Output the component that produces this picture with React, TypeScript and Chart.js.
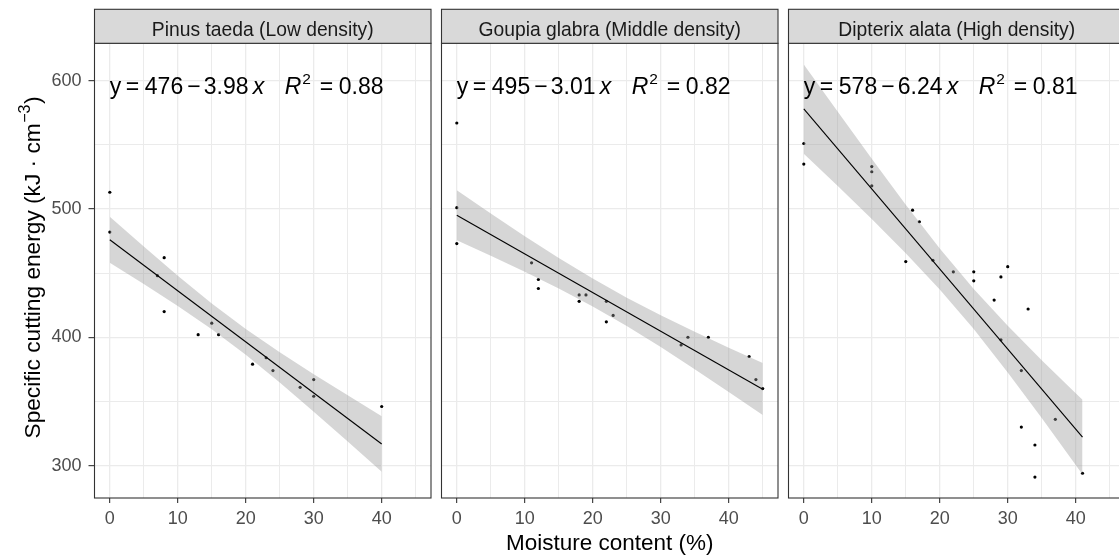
import React, { useEffect, useRef } from "react";
import { Chart, registerables } from "chart.js";

Chart.register(...registerables);

const FONT = '"Liberation Sans", Arial, Helvetica, sans-serif';

// ---------- data ----------
const panelTitles = [
  "Pinus taeda (Low density)",
  "Goupia glabra (Middle density)",
  "Dipterix alata (High density)",
];
const eqIntercept = ["476", "495", "578"];
const eqSlope = ["3.98", "3.01", "6.24"];
const eqR2 = ["0.88", "0.82", "0.81"];

const pinusX = [0, 0, 7, 8, 8, 13, 15, 16, 21, 23, 24, 28, 30, 30, 40];
const pinusY = [513, 482, 448, 462, 420, 402, 411, 402, 379, 384, 374, 361, 367, 354, 346];

const goupiaX = [0, 0, 0, 11, 12, 12, 18, 19, 18, 22, 22, 23, 33, 34, 37, 43, 44, 45];
const goupiaY = [567, 501, 473, 458, 445, 438, 433, 433, 428, 428, 412, 417, 394, 400, 400, 385, 367, 360];

const dipterixX = [0, 0, 10, 10, 10, 15, 16, 17, 19, 22, 25, 25, 28, 29, 29, 30, 32, 32, 33, 34, 34, 37, 41];
const dipterixY = [551, 535, 533, 529, 518, 459, 499, 490, 460, 451, 451, 444, 429, 447, 398, 455, 374, 330, 422, 316, 291, 336, 294];

const pinusFitX = [0, 40];
const pinusFitY = [476, 316.8];
const goupiaFitX = [0, 45];
const goupiaFitY = [495, 359.5];
const dipterixFitX = [0, 41];
const dipterixFitY = [578, 322.2];

const pinusBandX = [0, 5, 10, 15, 20, 25, 30, 35, 40];
const pinusUpper = [494.0, 470.7, 448.0, 426.3, 406.4, 388.3, 371.2, 354.7, 338.5];
const pinusLower = [458.0, 441.5, 424.4, 406.3, 386.4, 364.7, 342.0, 318.7, 295.1];

const goupiaBandX = [0, 5, 10, 15, 20, 25, 30, 35, 40, 45];
const goupiaUpper = [514.5, 496.5, 478.8, 461.8, 445.7, 430.8, 417.1, 404.3, 391.9, 379.9];
const goupiaLower = [475.5, 463.5, 451.0, 437.9, 423.9, 408.8, 392.3, 375.1, 357.3, 339.3];

const dipterixBandX = [0, 5, 10, 15, 20, 25, 30, 35, 40, 41];
const dipterixUpper = [612.5, 575.8, 539.1, 503.3, 469.1, 437.6, 409.0, 382.1, 356.3, 351.3];
const dipterixLower = [543.0, 517.8, 492.1, 465.5, 437.3, 406.4, 372.6, 337.1, 300.5, 293.1];

const xMajorTicks = [0, 10, 20, 30, 40];
const yMajorTicks = [300, 400, 500, 600];
const xRange = [-2.25, 47.25];
const yRange = [274.7, 629.1];

// ---------- layout ----------
const CANVAS_H = 555;
const STRIP_TOP = 9.3;
const PANEL_TOP = 43.3;
const X_AXIS_H = 57;

type Spec = {
  idx: number;
  left: number;
  width: number;
  padLeft: number;
  yAxisW: number;
  showY: boolean;
  showXTitle: boolean;
  xs: number[];
  ys: number[];
  fitX: number[];
  fitY: number[];
  bandX: number[];
  upper: number[];
  lower: number[];
};

const specs: Spec[] = [
  { idx: 0, left: 0, width: 436, padLeft: 0, yAxisW: 94.5, showY: true, showXTitle: false,
    xs: pinusX, ys: pinusY, fitX: pinusFitX, fitY: pinusFitY, bandX: pinusBandX, upper: pinusUpper, lower: pinusLower },
  { idx: 1, left: 436, width: 347, padLeft: 5.5, yAxisW: 0, showY: false, showXTitle: true,
    xs: goupiaX, ys: goupiaY, fitX: goupiaFitX, fitY: goupiaFitY, bandX: goupiaBandX, upper: goupiaUpper, lower: goupiaLower },
  { idx: 2, left: 783, width: 347, padLeft: 5.5, yAxisW: 0, showY: false, showXTitle: false,
    xs: dipterixX, ys: dipterixY, fitX: dipterixFitX, fitY: dipterixFitY, bandX: dipterixBandX, upper: dipterixUpper, lower: dipterixLower },
];

const near = (list: number[], v: number) => list.some((t) => Math.abs(t - v) < 1e-6);
const pts = (xs: number[], ys: number[]) => xs.map((x, i) => ({ x, y: ys[i] }));

function drawEquation(ctx: CanvasRenderingContext2D, x0: number, base: number, a: string, b: string, r2: string) {
  const f = `23px ${FONT}`;
  const fi = `italic 23px ${FONT}`;
  const fs = `15.5px ${FONT}`;
  const parts: [number, string, string, number][] = [
    [1, "y", f, 0],
    [17, "=", f, 0],
    [36, a, f, 0],
    [78.5, "\u2212", f, 0],
    [95, b, f, 0],
    [144, "x", fi, 0],
    [176, "R", fi, 0],
    [193.5, "2", fs, -10],
    [211, "=", f, 0],
    [230, r2, f, 0],
  ];
  ctx.save();
  ctx.fillStyle = "#000000";
  ctx.textAlign = "left";
  ctx.textBaseline = "alphabetic";
  for (const [dx, t, font, dy] of parts) {
    ctx.font = font;
    ctx.fillText(t, x0 + dx, base + dy);
  }
  ctx.restore();
}

function drawYTitle(ctx: CanvasRenderingContext2D, cx: number, cy: number) {
  const f = `22.7px ${FONT}`;
  const fs = `16px ${FONT}`;
  const p1 = "Specific cutting energy (kJ \u00B7 cm";
  const p2 = "\u22123";
  const p3 = ")";
  ctx.save();
  ctx.translate(cx, cy);
  ctx.rotate(-Math.PI / 2);
  ctx.fillStyle = "#000000";
  ctx.textAlign = "left";
  ctx.textBaseline = "alphabetic";
  ctx.font = f;
  const w1 = ctx.measureText(p1).width;
  const w3 = ctx.measureText(p3).width;
  ctx.font = fs;
  const w2 = ctx.measureText(p2).width;
  const total = w1 + w2 + w3 + 1;
  let x = -total / 2;
  ctx.font = f;
  ctx.fillText(p1, x, 0);
  x += w1 + 0.5;
  ctx.font = fs;
  ctx.fillText(p2, x, -10.5);
  x += w2 + 0.5;
  ctx.font = f;
  ctx.fillText(p3, x, 0);
  ctx.restore();
}

function Panel({ spec }: { spec: Spec }) {
  const ref = useRef<HTMLCanvasElement | null>(null);

  useEffect(() => {
    const canvas = ref.current;
    if (!canvas) return;

    const facetPlugin = {
      id: "facet" + spec.idx,
      afterDraw(chart: any) {
        const { ctx, chartArea: a } = chart;
        ctx.save();
        ctx.strokeStyle = "#333333";
        ctx.lineWidth = 1.1;
        ctx.strokeRect(a.left, a.top, a.right - a.left, a.bottom - a.top);
        ctx.fillStyle = "#d9d9d9";
        ctx.fillRect(a.left, STRIP_TOP, a.right - a.left, a.top - STRIP_TOP);
        ctx.strokeRect(a.left, STRIP_TOP, a.right - a.left, a.top - STRIP_TOP);
        ctx.fillStyle = "#1a1a1a";
        ctx.font = `19.3px ${FONT}`;
        ctx.textAlign = "center";
        ctx.textBaseline = "alphabetic";
        ctx.fillText(panelTitles[spec.idx], (a.left + a.right) / 2, 36);
        ctx.restore();

        const x0 = chart.scales.x.getPixelForValue(0) - 1;
        drawEquation(ctx, x0, 94, eqIntercept[spec.idx], eqSlope[spec.idx], eqR2[spec.idx]);

        if (spec.showY) drawYTitle(ctx, 40, 267.5);
        if (spec.showXTitle) {
          ctx.save();
          ctx.fillStyle = "#000000";
          ctx.font = `22.5px ${FONT}`;
          ctx.textAlign = "center";
          ctx.textBaseline = "alphabetic";
          ctx.fillText("Moisture content (%)", 609.75 - spec.left, 550);
          ctx.restore();
        }
      },
    };

    const chart = new Chart(canvas, {
      type: "line",
      data: {
        datasets: [
          {
            data: pts(spec.fitX, spec.fitY),
            borderColor: "#000000",
            borderWidth: 1.1,
            pointRadius: 0,
            fill: false,
            tension: 0,
          },
          {
            data: pts(spec.bandX, spec.upper),
            borderColor: "rgba(0,0,0,0)",
            borderWidth: 0,
            pointRadius: 0,
            backgroundColor: "rgba(153,153,153,0.4)",
            fill: "+1",
            tension: 0,
          },
          {
            data: pts(spec.bandX, spec.lower),
            borderColor: "rgba(0,0,0,0)",
            borderWidth: 0,
            pointRadius: 0,
            fill: false,
            tension: 0,
          },
          {
            data: pts(spec.xs, spec.ys),
            showLine: false,
            pointRadius: 1.6,
            pointBackgroundColor: "#000000",
            pointBorderColor: "#000000",
            pointBorderWidth: 0,
            fill: false,
          },
        ] as any,
      },
      options: {
        animation: false,
        responsive: false,
        devicePixelRatio: 1,
        events: [],
        layout: { padding: { left: spec.padLeft, right: 5, top: PANEL_TOP, bottom: 0 } },
        plugins: {
          legend: { display: false },
          tooltip: { enabled: false },
          title: { display: false },
        },
        scales: {
          x: {
            type: "linear",
            min: xRange[0],
            max: xRange[1],
            afterFit: (s: any) => {
              s.height = X_AXIS_H;
            },
            border: { display: false },
            grid: {
              color: "#ebebeb",
              lineWidth: (c: any) => (c.tick && near(xMajorTicks, c.tick.value) ? 1.3 : 1),
              tickColor: (c: any) => (c.tick && near(xMajorTicks, c.tick.value) ? "#333333" : "rgba(0,0,0,0)"),
              tickLength: 5,
              tickWidth: 1.1,
              drawTicks: true,
            },
            ticks: {
              stepSize: 5,
              includeBounds: false,
              autoSkip: false,
              maxRotation: 0,
              padding: 5,
              color: "#4d4d4d",
              font: { family: FONT, size: 18 },
              callback: (v: any) => (near(xMajorTicks, Number(v)) ? String(v) : ""),
            },
          },
          y: {
            type: "linear",
            min: yRange[0],
            max: yRange[1],
            afterFit: (s: any) => {
              s.width = spec.yAxisW;
            },
            border: { display: false },
            grid: {
              color: "#ebebeb",
              lineWidth: (c: any) => (c.tick && near(yMajorTicks, c.tick.value) ? 1.3 : 1),
              tickColor: (c: any) => (c.tick && near(yMajorTicks, c.tick.value) ? "#333333" : "rgba(0,0,0,0)"),
              tickLength: 6,
              tickWidth: 1.1,
              drawTicks: spec.showY,
            },
            ticks: {
              display: spec.showY,
              stepSize: 50,
              includeBounds: false,
              autoSkip: false,
              padding: 7,
              color: "#4d4d4d",
              font: { family: FONT, size: 18 },
              callback: (v: any) => (near(yMajorTicks, Number(v)) ? String(v) : ""),
            },
          },
        },
      } as any,
      plugins: [facetPlugin],
    });

    return () => chart.destroy();
  }, [spec]);

  return (
    <canvas
      ref={ref}
      width={spec.width}
      height={CANVAS_H}
      style={{ position: "absolute", left: spec.left, top: 0, width: spec.width, height: CANVAS_H, display: "block" }}
    />
  );
}

export default function App() {
  return (
    <div
      style={{
        position: "fixed",
        left: 0,
        top: 0,
        width: 1119,
        height: 555,
        overflow: "hidden",
        background: "#ffffff",
      }}
    >
      {specs.map((s) => (
        <Panel key={s.idx} spec={s} />
      ))}
    </div>
  );
}
